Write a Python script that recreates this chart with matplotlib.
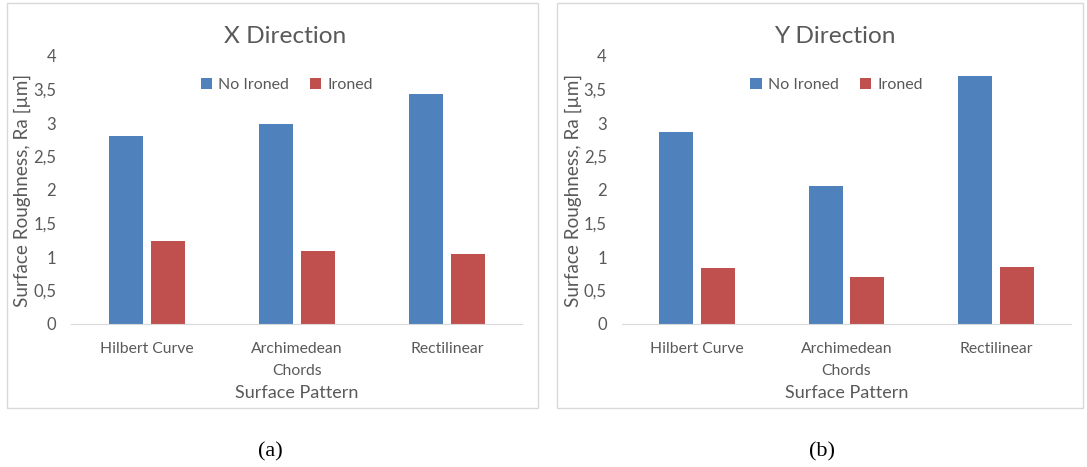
import matplotlib
matplotlib.use("Agg")
import matplotlib.pyplot as plt
import numpy as np
from matplotlib.patches import Rectangle
from matplotlib.ticker import FuncFormatter

plt.rcParams['font.family'] = ['Lato', 'DejaVu Sans']

#------------------------------------------------------------------
patterns   = ["Hilbert Curve", "Archimedean\nChords", "Rectilinear"]
series     = ["No Ironed", "Ironed"]
x_no_iron  = [2.81, 2.99, 3.44]
x_ironed   = [1.24, 1.09, 1.05]
y_no_iron  = [2.86, 2.06, 3.70]
y_ironed   = [0.83, 0.70, 0.85]
titles     = ["X Direction", "Y Direction"]
captions   = ["(a)", "(b)"]
yticks     = [0, 0.5, 1, 1.5, 2, 2.5, 3, 3.5, 4]

BLUE  = "#4f81bd"
RED   = "#c0504d"
GRAY  = "#595959"

#------------------------------------------------------------------
def comma_fmt(v, pos):
    s = ("%g" % v)
    return s.replace(".", ",")

def draw_panel(ax, title, no_iron, ironed):
    x = np.arange(len(patterns))
    w = 0.227
    off = 0.14
    ax.bar(x - off, no_iron, w, color=BLUE, label=series[0])
    ax.bar(x + off, ironed, w, color=RED, label=series[1])
    ax.set_xlim(-0.5, 2.5)
    ax.set_ylim(0, 4)
    ax.set_yticks(yticks)
    ax.yaxis.set_major_formatter(FuncFormatter(comma_fmt))
    ax.set_xticks(x)
    ax.set_xticklabels(patterns, color=GRAY, fontsize=11.3, linespacing=1.75)
    ax.tick_params(axis='x', length=0, pad=13)
    ax.tick_params(axis='y', length=0, pad=11, labelcolor=GRAY, labelsize=12)
    for s in ["top", "right", "left"]:
        ax.spines[s].set_visible(False)
    ax.spines["bottom"].set_color("#d9d9d9")
    ax.text(0.475, 1.071, title, transform=ax.transAxes, ha='center', va='center',
            fontsize=17.6, color=GRAY)
    ax.text(0.5, -0.257, "Surface Pattern", transform=ax.transAxes, ha='center',
            va='center', fontsize=13, color=GRAY)
    ax.set_ylabel("Surface Roughness, Ra [µm]", fontsize=13.6, color=GRAY)
    ax.yaxis.set_label_coords(-0.09, 0.5)
    leg = ax.legend(loc='center', bbox_to_anchor=(0.478, 0.892), ncol=2, frameon=False,
                    fontsize=11.5, handlelength=0.7, handleheight=0.7,
                    handletextpad=0.4, columnspacing=1.3)
    for t in leg.get_texts():
        t.set_color(GRAY)

#------------------------------------------------------------------
def main():
    fig = plt.figure(figsize=(10.87, 4.67), dpi=100)
    W, H = 1087.0, 467.0

    # panel borders
    for x0, x1 in [(7, 538), (557, 1083)]:
        fig.patches.append(Rectangle((x0 / W, 1 - 408 / H), (x1 - x0) / W, (408 - 3) / H,
                                     transform=fig.transFigure, fill=False,
                                     edgecolor="#d9d9d9", linewidth=1.0))

    ax1 = fig.add_axes([71.5 / W, 1 - 324 / H, (522 - 71.5) / W, 268 / H])
    ax2 = fig.add_axes([622 / W, 1 - 324 / H, (1071 - 622) / W, 268 / H])
    draw_panel(ax1, titles[0], x_no_iron, x_ironed)
    draw_panel(ax2, titles[1], y_no_iron, y_ironed)

    for cx, cap in zip([270, 822], captions):
        fig.text(cx / W, 1 - 452 / H, cap, ha='center', va='center', fontsize=16,
                 family=['Liberation Serif', 'DejaVu Serif'], color='black')

    fig.savefig("out.png", dpi=100)

if __name__ == "__main__":
    main()
